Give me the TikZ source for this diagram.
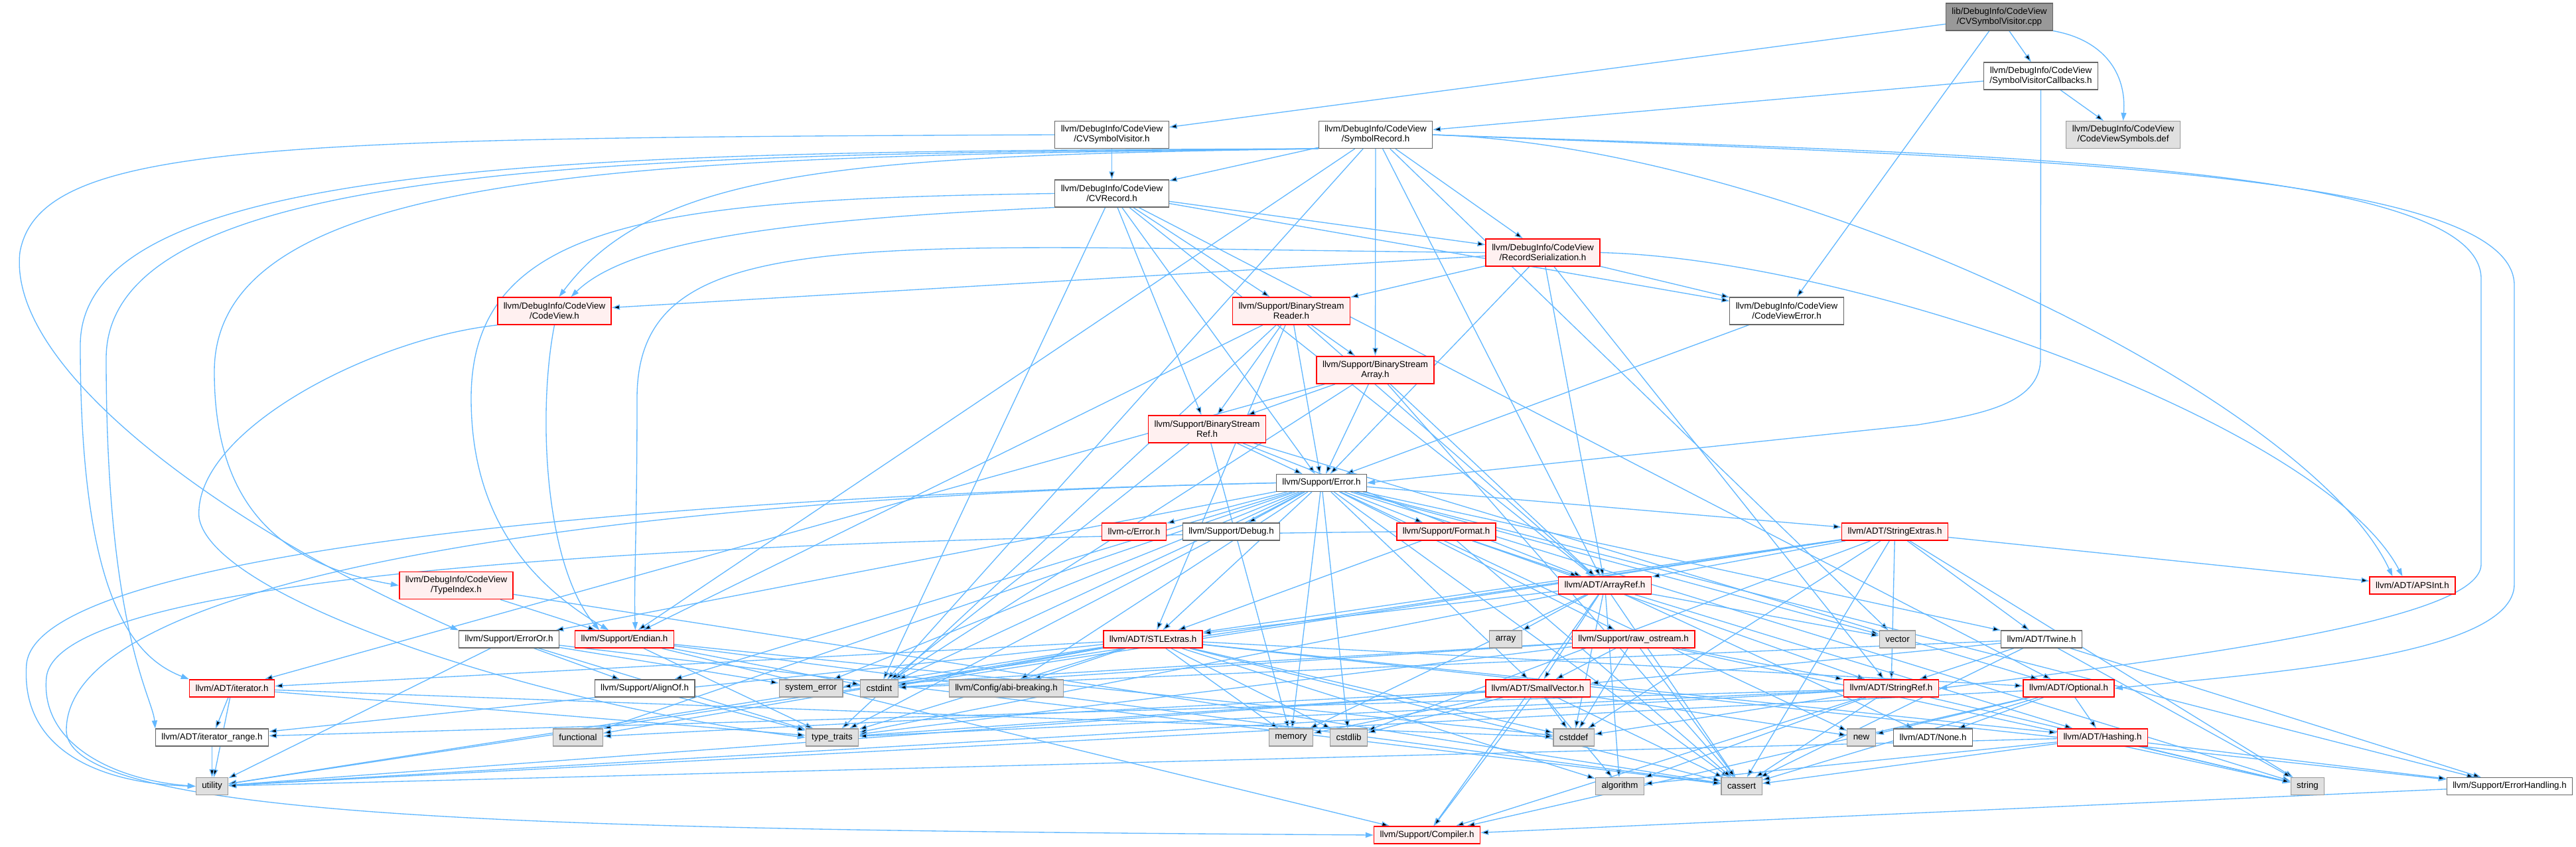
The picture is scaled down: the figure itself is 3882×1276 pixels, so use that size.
\documentclass[tikz,border=0pt]{standalone}
\usepackage{fontspec}
\setmainfont{Liberation Sans}
\usepackage{tikz}
\usetikzlibrary{arrows.meta}
\definecolor{edgecolor}{HTML}{63B8FF}
\definecolor{boxborder}{HTML}{666666}
\definecolor{trunccolor}{HTML}{FF0000}
\definecolor{truncfill}{HTML}{FFF0F0}
\definecolor{sysfill}{HTML}{E0E0E0}
\definecolor{sysborder}{HTML}{999999}
\definecolor{mainfill}{HTML}{999999}
\pgfdeclarelayer{edges}
\pgfsetlayers{edges,main}

\begin{document}
\begin{tikzpicture}[
    x=0.01cm, y=-0.01cm,
    hdr/.style={rectangle, draw=boxborder, fill=white, line width=0.3pt, inner xsep=0.09cm, inner ysep=0.02cm, minimum height=0.26cm, align=center, font=\fontsize{3.8}{4.27}\selectfont},
    two/.style={minimum height=0.41cm},
    trunc/.style={hdr, draw=trunccolor, fill=truncfill, line width=0.45pt},
    sys/.style={hdr, draw=sysborder, fill=sysfill},
    mainfile/.style={hdr, fill=mainfill},
    arrow/.style={draw=edgecolor, line width=0.38pt, -{Triangle[length=0.12cm, width=0.08cm]}}
]
\useasboundingbox (0,0) rectangle (3882,1276);

% CodeView files
\node[mainfile, two] (root) at (3013,25.5) {lib/DebugInfo/CodeView\\/CVSymbolVisitor.cpp};
\node[hdr, two] (svc) at (3075.5,114.5) {llvm/DebugInfo/CodeView\\/SymbolVisitorCallbacks.h};
\node[sys, two] (def) at (3199.5,203) {llvm/DebugInfo/CodeView\\/CodeViewSymbols.def};
\node[hdr, two] (cvsv) at (1675.5,203) {llvm/DebugInfo/CodeView\\/CVSymbolVisitor.h};
\node[hdr, two] (symrec) at (2073,203) {llvm/DebugInfo/CodeView\\/SymbolRecord.h};
\node[hdr, two] (cvrec) at (1675.5,291.5) {llvm/DebugInfo/CodeView\\/CVRecord.h};
\node[trunc, two] (recser) at (2325,380.5) {llvm/DebugInfo/CodeView\\/RecordSerialization.h};
\node[trunc, two] (cview) at (835.5,468.5) {llvm/DebugInfo/CodeView\\/CodeView.h};
\node[hdr, two] (cverr) at (2692.5,468.5) {llvm/DebugInfo/CodeView\\/CodeViewError.h};
\node[trunc, two] (typeindex) at (687.5,882) {llvm/DebugInfo/CodeView\\/TypeIndex.h};

% Support files
\node[trunc, two] (bsreader) at (1946,468.5) {llvm/Support/BinaryStream\\Reader.h};
\node[trunc, two] (bsarray) at (2072.5,557.5) {llvm/Support/BinaryStream\\Array.h};
\node[trunc, two] (bsref) at (1819,646.5) {llvm/Support/BinaryStream\\Ref.h};
\node[hdr] (error) at (1991.5,727.5) {llvm/Support/Error.h};
\node[trunc] (cerror) at (1709,801) {llvm-c/Error.h};
\node[hdr] (debug) at (1855.5,801) {llvm/Support/Debug.h};
\node[trunc] (format) at (2179.5,801) {llvm/Support/Format.h};
\node[hdr] (erroror) at (767,963) {llvm/Support/ErrorOr.h};
\node[trunc] (endian) at (941,963) {llvm/Support/Endian.h};
\node[trunc] (rawos) at (2461.5,963) {llvm/Support/raw\_ostream.h};
\node[hdr] (alignof) at (971.5,1037) {llvm/Support/AlignOf.h};
\node[sys] (abibrk) at (1516.5,1037) {llvm/Config/abi-breaking.h};
\node[hdr] (errhand) at (3782,1184.5) {llvm/Support/ErrorHandling.h};
\node[trunc] (compiler) at (2150.5,1258) {llvm/Support/Compiler.h};

% ADT files
\node[trunc] (strext) at (2855.5,801) {llvm/ADT/StringExtras.h};
\node[trunc] (arrayref) at (2418.5,882) {llvm/ADT/ArrayRef.h};
\node[trunc] (apsint) at (3635.5,882) {llvm/ADT/APSInt.h};
\node[trunc] (stlextras) at (1737.5,963) {llvm/ADT/STLExtras.h};
\node[hdr] (twine) at (3076.5,963) {llvm/ADT/Twine.h};
\node[trunc] (iterator) at (349.5,1037) {llvm/ADT/iterator.h};
\node[trunc] (smallvec) at (2317.5,1037) {llvm/ADT/SmallVector.h};
\node[trunc] (strref) at (2850,1037) {llvm/ADT/StringRef.h};
\node[trunc] (optional) at (3117.5,1037) {llvm/ADT/Optional.h};
\node[hdr] (itrange) at (319.5,1111) {llvm/ADT/iterator\_range.h};
\node[hdr] (nonehdr) at (2913,1111) {llvm/ADT/None.h};
\node[trunc] (hashing) at (3168.5,1111) {llvm/ADT/Hashing.h};

% system headers
\node[sys] (array) at (2269,963) {array};
\node[sys] (vector) at (2859.5,963) {vector};
\node[sys] (syserr) at (1222,1037) {system\_error};
\node[sys] (cstdint) at (1325,1037) {cstdint};
\node[sys] (functional) at (871,1111) {functional};
\node[sys] (typetraits) at (1254,1111) {type\_traits};
\node[sys] (memory) at (1945.5,1111) {memory};
\node[sys] (cstdlib) at (2032.5,1111) {cstdlib};
\node[sys] (cstddef) at (2371.5,1111) {cstddef};
\node[sys] (newhdr) at (2805,1111) {new};
\node[sys] (utility) at (319.5,1184.5) {utility};
\node[sys] (algorithm) at (2441,1184.5) {algorithm};
\node[sys] (cassert) at (2624.5,1184.5) {cassert};
\node[sys] (string) at (3477.5,1184.5) {string};

\begin{pgfonlayer}{edges}
% includes of the top files
\draw[arrow] (root) edge (cvsv) edge (svc) edge (cverr);
\draw[arrow] (root.south east) .. controls (3170,60) and (3205,110) .. (def.north);
\draw[arrow] (svc) edge (symrec) edge (def);
\draw[arrow] (svc.south) -- (3075,540) .. controls (3075,610) and (2980,625) .. (2890,640) -- (error.east);
\draw[arrow] (cvsv) edge (cvrec);
\draw[arrow] (cvsv.west) .. controls (400,208) and (60,215) .. (30,380) .. controls (10,560) and (350,800) .. (erroror.north west);

% SymbolRecord.h
\draw[arrow] (symrec) edge (cvrec) edge (recser) edge (bsarray) edge (arrayref) edge (cstdint) edge (vector) edge (endian);
\draw[arrow] (symrec.south west) .. controls (1300,235) and (990,250) .. ([xshift=0.07cm]cview.north);
\draw[arrow] (symrec.south west) .. controls (900,228) and (121,235) .. (121,520) .. controls (121,900) and (200,990) .. (iterator.north west);
\draw[arrow] (symrec.south west) .. controls (950,232) and (160,240) .. (160,540) .. controls (160,950) and (230,1050) .. (itrange.north west);
\draw[arrow] (symrec.south west) .. controls (1000,236) and (323,245) .. (323,560) .. controls (323,760) and (420,850) .. (typeindex.west);
\draw[arrow] (symrec.east) .. controls (2700,220) and (3480,600) .. ([xshift=-0.3cm]apsint.north);
\draw[arrow] (symrec.east) .. controls (2900,230) and (3739,240) .. (3739,420) -- (3739,850) .. controls (3739,930) and (3350,985) .. (strref.east);
\draw[arrow] (symrec.east) .. controls (2950,236) and (3789,248) .. (3789,430) -- (3789,880) .. controls (3789,990) and (3400,1015) .. (optional.east);

% CVRecord.h and RecordSerialization.h
\draw[arrow] (cvrec) edge (recser) edge (bsreader) edge (bsref) edge (error) edge (cverr) edge (arrayref) edge (optional) edge (cstdint);
\draw[arrow] (cvrec.south west) .. controls (1200,330) and (950,360) .. ([xshift=0.25cm]cview.north);
\draw[arrow] (cvrec.west) .. controls (1000,300) and (710,330) .. (710,600) .. controls (710,780) and (800,880) .. (endian.150);
\draw[arrow] (recser) edge (cview) edge (cverr) edge (bsreader) edge (error) edge (arrayref) edge (strref);
\draw[arrow] (recser.west) .. controls (1300,372) and (960,330) .. (960,600) .. controls (960,800) and (955,880) .. (endian.40);
\draw[arrow] (recser.east) .. controls (2800,390) and (3500,640) .. ([xshift=-0.15cm]apsint.north);
\draw[arrow] (cview.south) .. controls (810,620) and (820,850) .. (endian.160);
\draw[arrow] (cview.south west) .. controls (560,510) and (290,650) .. (300,780) .. controls (320,900) and (800,1060) .. (typetraits.west);
\draw[arrow] (cverr) edge (error);
\draw[arrow] (typeindex) edge (endian) edge (cassert);

% BinaryStream files
\draw[arrow] (bsreader) edge (bsarray) edge (bsref) edge (error) edge (arrayref) edge (stlextras) edge (endian) edge (typetraits);
\draw[arrow] (bsarray) edge (bsref) edge (error) edge (arrayref) edge (iterator) edge (cassert) edge (cstdint);
\draw[arrow] (bsref) edge (error) edge (arrayref) edge (optional) edge (cstdint) edge (memory);

% Error.h
\draw[arrow] (error) edge (cerror) edge (debug) edge (format) edge (strext) edge (stlextras) edge (smallvec) edge (twine) edge (abibrk) edge (alignof) edge (errhand) edge (erroror) edge (rawos) edge (cassert) edge (cstdint) edge (cstdlib) edge (functional) edge (memory) edge (newhdr) edge (string) edge (syserr) edge (typetraits) edge (vector);
\draw[arrow] (error.west) .. controls (1100,745) and (60,820) .. (40,1000) .. controls (30,1130) and (150,1180) .. (utility.west);
\draw[arrow] (error.west) .. controls (900,750) and (100,870) .. (100,1100) .. controls (100,1240) and (900,1250) .. (compiler.west);
\draw[arrow] (format) edge (arrayref) edge (stlextras) edge (strref) edge (cassert);
\draw[arrow] (format.west) .. controls (1200,810) and (90,850) .. (70,1020) .. controls (60,1120) and (170,1175) .. (utility.west);
\draw[arrow] (strext) edge (apsint) edge (arrayref) edge (stlextras) edge (strref) edge (twine) edge (cassert) edge (cstddef) edge (cstdint) edge (cstdlib) edge (string) edge (utility);

% lower headers
\draw[arrow] (arrayref) edge (array) edge (vector) edge (smallvec) edge (stlextras) edge (hashing) edge (nonehdr) edge (compiler) edge (algorithm) edge (cassert) edge (cstddef) edge (memory) edge (typetraits);
\draw[arrow] (erroror) edge (alignof) edge (syserr) edge (typetraits) edge (cassert) edge (utility);
\draw[arrow] (endian) edge (compiler) edge (cassert) edge (cstddef) edge (cstdint) edge (typetraits);
\draw[arrow] (stlextras) edge (hashing) edge (optional) edge (iterator) edge (itrange) edge (abibrk) edge (errhand) edge (algorithm) edge (cassert) edge (cstddef) edge (cstdint) edge (cstdlib) edge (functional) edge (memory) edge (typetraits) edge (utility);
\draw[arrow] (rawos) edge (smallvec) edge (strref) edge (cassert) edge (cstddef) edge (cstdint) edge (string) edge (syserr) edge (typetraits);
\draw[arrow] (twine) edge (smallvec) edge (strref) edge (errhand) edge (cassert) edge (cstdint) edge (string);
\draw[arrow] (iterator) edge (itrange) edge (utility) edge (cstddef) edge (typetraits);
\draw[arrow] (alignof) edge (typetraits);
\draw[arrow] (smallvec) edge (compiler) edge (algorithm) edge (cassert) edge (cstddef) edge (cstdlib) edge (functional) edge (memory) edge (newhdr) edge (typetraits) edge (utility);
\draw[arrow] (strref) edge (itrange) edge (compiler) edge (algorithm) edge (cassert) edge (cstddef) edge (string) edge (typetraits) edge (utility);
\draw[arrow] (optional) edge (hashing) edge (nonehdr) edge (newhdr) edge (compiler) edge (cassert) edge (utility);
\draw[arrow] (hashing) edge (errhand) edge (string) edge (algorithm) edge (cassert) edge (utility);
\draw[arrow] (itrange) edge (utility);
\draw[arrow] (errhand) edge (compiler);
\end{pgfonlayer}
\end{tikzpicture}
\end{document}
